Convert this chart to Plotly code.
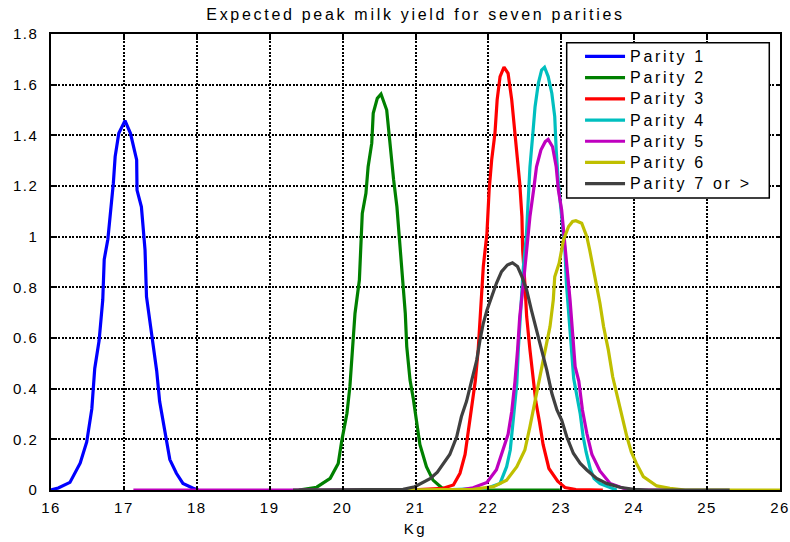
import html
import plotly.graph_objects as go

# Kernel-density estimates of expected peak milk yield (Kg) per parity
p1_x = [16.0, 16.1, 16.26, 16.4, 16.49, 16.56, 16.6, 16.66, 16.71, 16.73, 16.78, 16.82,
        16.855, 16.88, 16.93, 17.015, 17.09, 17.175, 17.18, 17.24, 17.29, 17.31, 17.38,
        17.45, 17.49, 17.54, 17.59, 17.63, 17.72, 17.81, 17.95, 18.02]
p1_y = [0.0, 0.008, 0.03, 0.106, 0.19, 0.32, 0.48, 0.59, 0.75, 0.91, 0.99, 1.105,
        1.21, 1.316, 1.408, 1.458, 1.408, 1.303, 1.184, 1.118, 0.947, 0.763, 0.619,
        0.47, 0.35, 0.27, 0.184, 0.12, 0.066, 0.026, 0.007, 0.0]

p2_x = [19.4, 19.645, 19.83, 19.94, 19.99, 20.06, 20.10, 20.14, 20.17, 20.23, 20.25,
        20.27, 20.32, 20.35, 20.40, 20.42, 20.476, 20.527, 20.605, 20.65, 20.70, 20.745,
        20.77, 20.81, 20.86, 20.88, 20.925, 20.97, 21.0, 21.06, 21.15, 21.24, 21.36,
        21.45, 22.98]
p2_y = [0.0, 0.011, 0.046, 0.105, 0.197, 0.303, 0.408, 0.566, 0.697, 0.829, 0.987,
        1.092, 1.171, 1.276, 1.369, 1.487, 1.546, 1.563, 1.50, 1.355, 1.224, 1.118,
        1.026, 0.882, 0.697, 0.566, 0.434, 0.36, 0.3, 0.18, 0.092, 0.039, 0.009,
        0.0, 0.0]

p3_x = [20.9, 21.38, 21.52, 21.61, 21.68, 21.72, 21.77, 21.82, 21.86, 21.89, 21.93,
        21.98, 22.01, 22.045, 22.09, 22.12, 22.16, 22.214, 22.27, 22.32, 22.365, 22.40,
        22.43, 22.46, 22.47, 22.50, 22.525, 22.57, 22.61, 22.65, 22.70, 22.75, 22.83,
        22.95, 23.05, 23.2, 23.57]
p3_y = [0.0, 0.007, 0.02, 0.066, 0.14, 0.22, 0.34, 0.43, 0.553, 0.684, 0.882,
        1.013, 1.184, 1.303, 1.408, 1.54, 1.632, 1.669, 1.645, 1.54, 1.408, 1.276,
        1.21, 1.079, 0.947, 0.816, 0.684, 0.553, 0.45, 0.35, 0.27, 0.18, 0.085,
        0.035, 0.01, 0.002, 0.0]

p4_x = [21.3, 21.98, 22.16, 22.25, 22.30, 22.34, 22.39, 22.41, 22.44, 22.48, 22.52,
        22.55, 22.57, 22.61, 22.64, 22.685, 22.73, 22.77, 22.82, 22.87, 22.91, 22.93,
        22.96, 23.005, 23.05, 23.07, 23.11, 23.14, 23.17, 23.22, 23.26, 23.30, 23.34,
        23.40, 23.45, 23.53, 23.71, 23.76]
p4_y = [0.0, 0.007, 0.026, 0.092, 0.158, 0.29, 0.421, 0.553, 0.71, 0.882, 1.0,
        1.145, 1.276, 1.408, 1.513, 1.605, 1.658, 1.669, 1.632, 1.566, 1.474, 1.342,
        1.21, 1.079, 0.947, 0.816, 0.684, 0.553, 0.44, 0.36, 0.30, 0.21, 0.15,
        0.08, 0.045, 0.025, 0.007, 0.0]

p5_x = [17.13, 21.6, 21.79, 21.98, 22.11, 22.20, 22.27, 22.32, 22.365, 22.40, 22.43,
        22.48, 22.525, 22.57, 22.62, 22.66, 22.72, 22.78, 22.82, 22.88, 22.93, 22.96,
        23.005, 23.04, 23.07, 23.12, 23.155, 23.19, 23.24, 23.29, 23.35, 23.42, 23.53,
        23.67, 23.85, 24.0, 24.6]
p5_y = [0.0, 0.0, 0.009, 0.03, 0.08, 0.16, 0.22, 0.31, 0.43, 0.553, 0.684,
        0.816, 0.947, 1.079, 1.184, 1.276, 1.342, 1.375, 1.384, 1.355, 1.276, 1.184,
        1.105, 1.0, 0.882, 0.75, 0.619, 0.487, 0.43, 0.316, 0.224, 0.14, 0.075,
        0.026, 0.007, 0.0, 0.0]

p6_x = [20.5, 21.79, 22.07, 22.25, 22.39, 22.50, 22.57, 22.64, 22.71, 22.78, 22.845,
        22.89, 22.91, 22.97, 23.03, 23.10, 23.155, 23.20, 23.28, 23.35, 23.39, 23.46,
        23.53, 23.58, 23.645, 23.705, 23.78, 23.83, 23.90, 23.96, 24.03, 24.125, 24.31,
        24.49, 24.7, 26.0]
p6_y = [0.0, 0.003, 0.013, 0.039, 0.092, 0.158, 0.25, 0.355, 0.447, 0.553, 0.645,
        0.75, 0.842, 0.895, 0.987, 1.04, 1.06, 1.063, 1.053, 1.0, 0.947, 0.842,
        0.737, 0.645, 0.553, 0.447, 0.355, 0.29, 0.21, 0.15, 0.105, 0.053, 0.016,
        0.007, 0.0, 0.0]

p7_x = [19.32, 20.83, 20.99, 21.1, 21.2, 21.3, 21.47, 21.565, 21.63, 21.70, 21.77,
        21.84, 21.885, 21.93, 21.98, 22.045, 22.11, 22.18, 22.26, 22.33, 22.40, 22.46,
        22.525, 22.59, 22.66, 22.73, 22.80, 22.87, 22.94, 23.005, 23.075, 23.165, 23.26,
        23.35, 23.485, 23.62, 23.805, 23.99, 24.2, 25.31]
p7_y = [0.0, 0.003, 0.013, 0.03, 0.045, 0.07, 0.14, 0.21, 0.29, 0.35, 0.434,
        0.513, 0.592, 0.658, 0.71, 0.763, 0.816, 0.862, 0.888, 0.897, 0.882, 0.842,
        0.79, 0.71, 0.632, 0.553, 0.474, 0.382, 0.316, 0.276, 0.21, 0.145, 0.105,
        0.079, 0.046, 0.026, 0.011, 0.003, 0.0, 0.0]

series_names = ["Parity 1", "Parity 2", "Parity 3", "Parity 4", "Parity 5",
                "Parity 6", "Parity 7 or >"]
series_colors = ["#0000ff", "#008000", "#ff0000", "#00bfbf", "#bf00bf",
                 "#bfbf00", "#404040"]

x_ticks = [16, 17, 18, 19, 20, 21, 22, 23, 24, 25, 26]
y_ticks = [0, 0.2, 0.4, 0.6, 0.8, 1, 1.2, 1.4, 1.6, 1.8]

chart_title = "Expected peak milk yield for seven parities"
x_label = "Kg"

FONT = "Liberation Sans, Arial, Helvetica, sans-serif"


def spaced(text, px, size=None):
    """Wrap text in a span with letter spacing (wide Helvetica look)."""
    style = f"letter-spacing:{px}px"
    if size:
        style += f";font-size:{size}px"
    return f'<span style="{style}">{html.escape(text)}</span>'


xs = [p1_x, p2_x, p3_x, p4_x, p5_x, p6_x, p7_x]
ys = [p1_y, p2_y, p3_y, p4_y, p5_y, p6_y, p7_y]

fig = go.Figure()
for name, color, x, y in zip(series_names, series_colors, xs, ys):
    fig.add_trace(go.Scatter(
        x=x, y=y, mode="lines", name=spaced(name, 2.7, 16),
        line=dict(color=color, width=3.2),
    ))

axis_common = dict(
    showline=True, linecolor="black", linewidth=1.5, mirror="ticks",
    ticks="inside", ticklen=4, tickwidth=1.5, tickcolor="black",
    showgrid=True, gridcolor="black", gridwidth=1.5, griddash="2px,1.5px",
    zeroline=False, automargin=False,
    tickfont=dict(family=FONT, size=15, color="black"),
)

fig.update_layout(
    width=790, height=542,
    margin=dict(l=51, r=10, t=34, b=52),
    paper_bgcolor="white", plot_bgcolor="white",
    title=dict(
        text=spaced(chart_title, 2.7),
        x=0.5, xref="paper", xanchor="center",
        y=1 - 14 / 542, yref="container", yanchor="middle",
        font=dict(family=FONT, size=16, color="black"),
    ),
    xaxis=dict(
        range=[16, 26], tickmode="array", tickvals=x_ticks,
        ticktext=[spaced(f"{v:g}", 1.5) for v in x_ticks],
        ticklabelstandoff=3,
        title=dict(text=spaced(x_label, 2.5), standoff=9,
                   font=dict(family=FONT, size=15, color="black")),
        **axis_common,
    ),
    yaxis=dict(
        range=[0, 1.8], tickmode="array", tickvals=y_ticks,
        ticktext=[spaced(f"{v:g}", 1.5) for v in y_ticks],
        ticklabelstandoff=8,
        **axis_common,
    ),
    legend=dict(
        x=0.7257, y=0.985, xanchor="left", yanchor="top",
        bgcolor="rgba(0,0,0,0)", borderwidth=0,
        font=dict(family=FONT, size=14, color="black"),
        itemwidth=40,
    ),
    shapes=[dict(
        type="rect", xref="paper", yref="paper",
        x0=0.7074, x1=0.9853, y0=0.6404, y1=0.981,
        line=dict(color="black", width=1.5), fillcolor="white", layer="above",
    )],
)

fig.write_html("out.html")
